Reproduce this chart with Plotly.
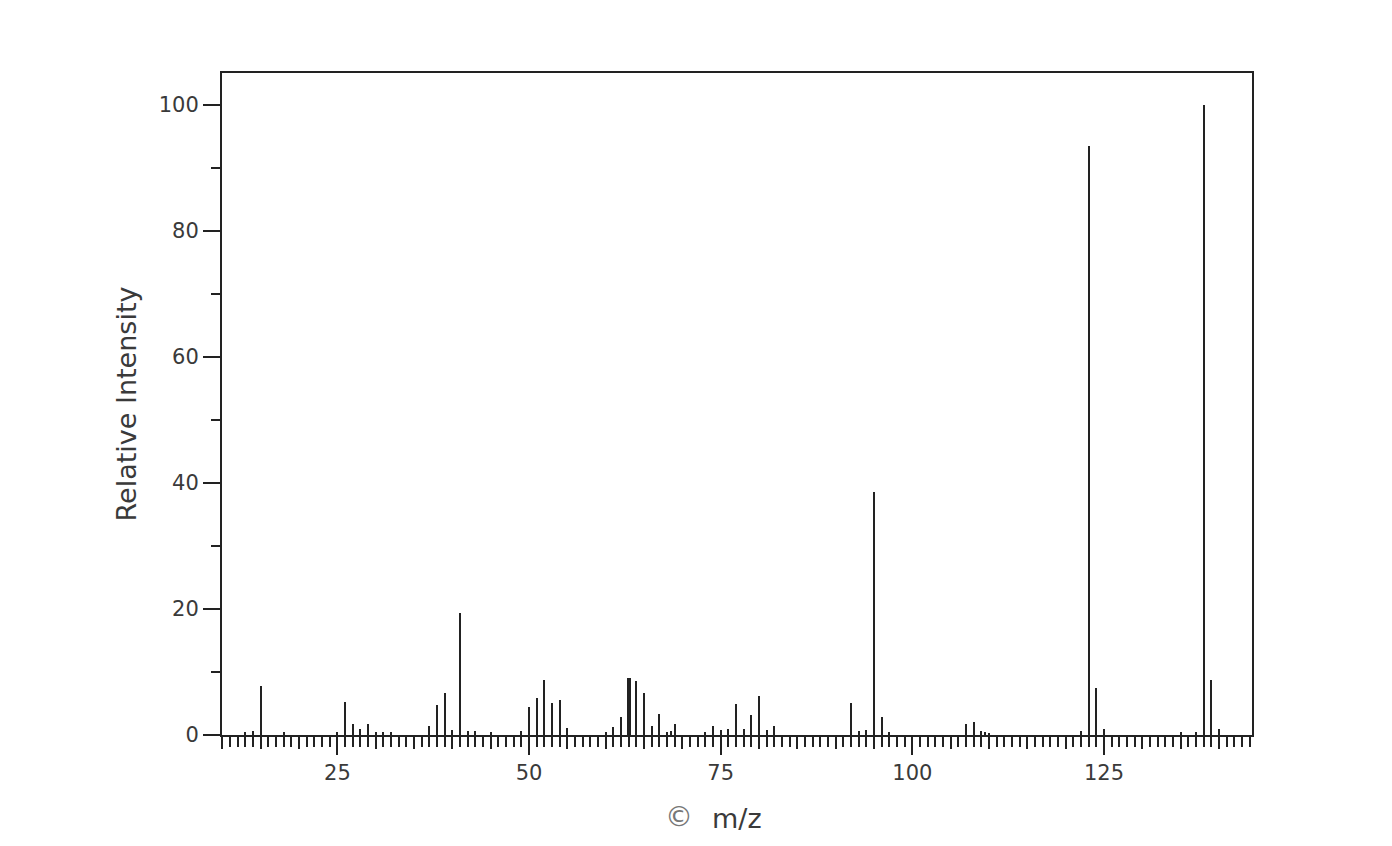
import plotly.graph_objects as go

# m/z values and relative intensities
mz = [13, 14, 15, 18, 25, 26, 27, 28, 29, 30, 31, 32,
      37, 38, 39, 40, 41, 42, 43, 45, 49, 50, 51, 52, 53, 54, 55,
      60, 61, 62, 63, 64, 65, 66, 67, 68, 68.5, 69, 73, 74, 75, 76, 77, 78, 79,
      80, 81, 82, 92, 93, 94, 95, 96, 97, 107, 108, 109, 109.5, 110,
      122, 123, 124, 125, 135, 137, 138, 139, 140]
intensity = [0.4, 0.7, 7.8, 0.4, 0.4, 5.3, 1.7, 0.9, 1.7, 0.4, 0.4, 0.4,
             1.4, 4.8, 6.6, 0.8, 19.4, 0.7, 0.7, 0.4, 0.7, 4.5, 5.8, 8.8, 5.1, 5.5, 1.1,
             0.4, 1.2, 2.8, 9.1, 8.6, 6.6, 1.4, 3.4, 0.4, 0.7, 1.7, 0.4, 1.4, 0.8, 1.0, 4.9, 1.0, 3.2,
             6.2, 0.8, 1.4, 5.1, 0.7, 0.8, 38.6, 2.8, 0.4, 1.7, 2.1, 0.7, 0.4, 0.3,
             0.7, 93.5, 7.5, 0.9, 0.4, 0.4, 100.0, 8.8, 0.9]

x_range = [9.95, 144.3]
y_range = [0, 105]
x_major_ticks = [25, 50, 75, 100, 125]
y_major_ticks = [0, 20, 40, 60, 80, 100]

FONT = "DejaVu Sans"
INK = "#222222"
TXT = "#3a3a3a"

widths = [0.5 if m == 63 else 0.27 for m in mz]

fig = go.Figure()
fig.add_trace(go.Bar(x=mz, y=intensity, width=widths,
                     marker=dict(color=INK, line=dict(width=0)),
                     showlegend=False, hoverinfo="x+y"))
# helper trace on overlay axis for 5-unit ticks
fig.add_trace(go.Scatter(x=[x_range[0]], y=[0], xaxis="x2", mode="markers",
                         marker=dict(opacity=0), showlegend=False, hoverinfo="skip"))

fig.update_layout(
    width=1392, height=846,
    paper_bgcolor="white", plot_bgcolor="white",
    margin=dict(l=214, r=148, t=65, b=119),
    bargap=0,
    font=dict(family=FONT, color=TXT, size=21),
    xaxis=dict(
        range=x_range, tickmode="array", tickvals=x_major_ticks,
        ticks="outside", ticklen=18, tickwidth=2, tickcolor=INK,
        minor=dict(dtick=1, tick0=0, ticks="outside", ticklen=10, tickwidth=2, tickcolor=INK),
        showline=True, linewidth=2, linecolor=INK, mirror=True,
        showgrid=False, zeroline=False,
        tickfont=dict(family=FONT, size=21, color=TXT),
    ),
    xaxis2=dict(
        range=x_range, overlaying="x", side="bottom", anchor="y",
        tickmode="linear", tick0=0, dtick=5,
        ticks="outside", ticklen=13, tickwidth=2, tickcolor=INK,
        showticklabels=False, showgrid=False, zeroline=False, showline=False,
    ),
    yaxis=dict(
        range=y_range, tickmode="array", tickvals=y_major_ticks,
        ticks="outside", ticklen=17, tickwidth=2, tickcolor=INK,
        minor=dict(dtick=10, tick0=0, ticks="outside", ticklen=9, tickwidth=2, tickcolor=INK),
        showline=True, linewidth=2, linecolor=INK, mirror=True,
        showgrid=False, zeroline=False,
        tickfont=dict(family=FONT, size=21, color=TXT),
        title=dict(text="Relative Intensity", font=dict(family=FONT, size=27, color=TXT), standoff=14),
    ),
    annotations=[
        dict(text="m/z", x=0.5, y=0, xref="paper", yref="paper", xanchor="center",
             yanchor="middle", yshift=-83, showarrow=False,
             font=dict(family=FONT, size=27, color=TXT)),
        dict(text="\u00a9", x=0.5, y=0, xref="paper", yref="paper", xanchor="center",
             yanchor="middle", xshift=-58, yshift=-81, showarrow=False,
             font=dict(family=FONT, size=28, color="#777777")),
    ],
)

fig.write_html("out.html")
